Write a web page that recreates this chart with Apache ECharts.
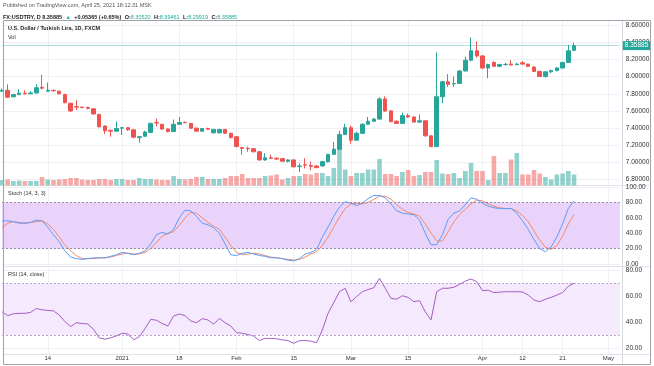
<!DOCTYPE html>
<html><head><meta charset="utf-8">
<script src="https://cdn.jsdelivr.net/npm/echarts@6/dist/echarts.min.js"></script>
<style>html,body{margin:0;padding:0;background:#fff}#c{width:654px;height:366px}</style>
</head><body><div id="c"></div><script>
const dates = [
"2020-12-02","2020-12-03","2020-12-04","2020-12-07","2020-12-08","2020-12-09","2020-12-10","2020-12-11","2020-12-14","2020-12-15","2020-12-16","2020-12-17","2020-12-18","2020-12-21","2020-12-22","2020-12-23","2020-12-24","2020-12-28","2020-12-29","2020-12-30","2020-12-31",
"2021-01-04","2021-01-05","2021-01-06","2021-01-07","2021-01-08","2021-01-11","2021-01-12","2021-01-13","2021-01-14","2021-01-15","2021-01-18","2021-01-19","2021-01-20","2021-01-21","2021-01-22","2021-01-25","2021-01-26","2021-01-27","2021-01-28","2021-01-29",
"2021-02-01","2021-02-02","2021-02-03","2021-02-04","2021-02-05","2021-02-08","2021-02-09","2021-02-10","2021-02-11","2021-02-12","2021-02-15","2021-02-16","2021-02-17","2021-02-18","2021-02-19","2021-02-22","2021-02-23","2021-02-24","2021-02-25","2021-02-26",
"2021-03-01","2021-03-02","2021-03-03","2021-03-04","2021-03-05","2021-03-08","2021-03-09","2021-03-10","2021-03-11","2021-03-12","2021-03-15","2021-03-16","2021-03-17","2021-03-18","2021-03-19","2021-03-22","2021-03-23","2021-03-24","2021-03-25","2021-03-26","2021-03-29","2021-03-30","2021-03-31",
"2021-04-01","2021-04-02","2021-04-05","2021-04-06","2021-04-07","2021-04-08","2021-04-09","2021-04-12","2021-04-13","2021-04-14","2021-04-15","2021-04-16","2021-04-19","2021-04-20","2021-04-21","2021-04-22","2021-04-23","2021-04-26","2021-04-27","2021-04-28","2021-04-29","2021-04-30",
"2021-05-03","2021-05-04","2021-05-05"];

const dateLabels = {"2020-12-14":"14","2021-01-04":"2021","2021-01-18":"18","2021-02-01":"Feb","2021-02-15":"15","2021-03-01":"Mar","2021-03-15":"15","2021-04-01":"Apr","2021-04-12":"12","2021-04-21":"21","2021-05-03":"May"};

const opens = [7.83,7.84,7.765,7.79,7.805,7.80,7.81,7.875,7.83,7.84,7.83,7.79,7.69,7.65,7.645,7.64,7.625,7.56,7.425,7.375,7.365,
7.40,7.405,7.38,7.29,7.305,7.35,7.465,7.445,7.39,7.36,7.445,7.468,7.455,7.40,7.365,7.395,7.345,7.345,7.385,7.34,
7.30,7.175,7.165,7.16,7.125,7.03,7.055,7.05,7.045,7.015,7.03,6.955,6.975,6.965,6.96,6.96,7.01,7.095,7.155,7.325,
7.405,7.26,7.34,7.445,7.48,7.505,7.74,7.60,7.48,7.455,7.545,7.53,7.47,7.485,7.31,7.185,7.765,7.94,7.915,7.92,8.065,8.19,8.30,
8.24,8.10,8.165,8.12,8.14,8.145,8.14,8.16,8.145,8.11,8.06,8.00,8.055,8.07,8.10,8.165,8.30520];
const closes = [7.84,7.76,7.79,7.805,7.80,7.81,7.87,7.865,7.84,7.835,7.80,7.695,7.60,7.645,7.64,7.63,7.565,7.415,7.37,7.365,7.395,
7.405,7.38,7.295,7.30,7.355,7.455,7.46,7.39,7.36,7.445,7.465,7.464,7.40,7.365,7.395,7.388,7.385,7.385,7.34,7.29,
7.185,7.165,7.16,7.125,7.03,7.055,7.05,7.04,7.015,7.03,6.95,6.96,6.97,6.955,6.94,7.01,7.095,7.155,7.325,7.405,
7.26,7.34,7.445,7.48,7.505,7.74,7.60,7.475,7.455,7.545,7.53,7.47,7.485,7.31,7.185,7.765,7.94,7.91,7.92,8.065,8.19,8.30,8.24,
8.10,8.14,8.12,8.14,8.142,8.135,8.145,8.145,8.12,8.06,8.00,8.055,8.07,8.10,8.165,8.30,8.35885];
const lows = [7.82,7.75,7.76,7.785,7.79,7.795,7.80,7.85,7.82,7.825,7.79,7.69,7.59,7.61,7.63,7.62,7.56,7.41,7.33,7.30,7.36,
7.32,7.37,7.28,7.23,7.30,7.345,7.42,7.38,7.35,7.355,7.44,7.455,7.39,7.36,7.36,7.38,7.34,7.34,7.335,7.28,
7.18,7.09,7.125,7.12,7.02,7.02,7.04,7.03,7.01,7.00,6.945,6.89,6.93,6.91,6.935,6.955,7.00,7.09,7.15,7.32,
7.22,7.25,7.33,7.44,7.475,7.50,7.59,7.47,7.45,7.45,7.52,7.465,7.46,7.30,7.18,7.18,7.69,7.88,7.88,7.915,8.06,8.18,8.22,
8.09,7.98,8.11,8.11,8.125,8.13,8.13,8.14,8.11,8.05,7.995,7.99,8.04,8.06,8.095,8.16,8.29919];
const highs = [7.86,7.91,7.80,7.855,7.84,7.83,7.91,8.02,7.93,7.85,7.835,7.80,7.695,7.725,7.65,7.65,7.63,7.565,7.43,7.38,7.48,
7.415,7.41,7.385,7.31,7.37,7.465,7.51,7.45,7.395,7.50,7.53,7.475,7.46,7.405,7.40,7.405,7.39,7.39,7.39,7.345,
7.305,7.18,7.185,7.165,7.13,7.11,7.09,7.06,7.05,7.04,7.035,6.99,7.05,7.01,6.965,7.02,7.10,7.24,7.37,7.45,
7.43,7.36,7.455,7.53,7.52,7.76,7.77,7.61,7.49,7.58,7.57,7.535,7.56,7.49,7.315,8.28,7.95,8.03,8.00,8.075,8.23,8.455,8.41,
8.25,8.15,8.18,8.15,8.16,8.19,8.16,8.18,8.15,8.12,8.065,8.06,8.08,8.11,8.17,8.37,8.39461];
const volumes = [11,12,9,10,9,9,9,17,12,11,12,13,15,15,12,11,11,13,13,11,13,
13,11,11,15,13,13,12,11,11,19,13,12,13,17,17,13,13,13,15,19,
19,23,15,15,15,19,20,22,12,15,19,19,23,22,25,25,19,35,86,32,
19,25,25,32,32,53,23,23,19,27,31,19,21,27,27,51,24,23,25,15,29,45,29,
29,11,59,25,25,52,65,22,22,31,24,17,12,22,24,29,22];
const stochK = [56,56,55,53,53,54,57,56,48,38,29,17,9,7,6,7,8,8,8,10,12,
15,14,12,14,17,26,38,41,39,45,60,70,69,62,53,51,47,40,26,12,
11,14,15,13,11,10,8,8,7,5,4,7,13,15,19,35,48,62,74,81,
79,76,79,85,89,89,86,78,69,66,65,64,57,40,25,25,38,58,66,69,77,86,84,
79,75,73,72,72,72,66,56,45,32,20,16,22,35,52,72,82];
const stochD = [47,53,55,54,53,54,55,56,52,45,35,25,17,11,7,7,7,8,8,9,11,
13,14,13,13,15,20,28,36,40,42,50,60,67,66,60,54,49,45,35,24,
15,12,13,14,13,11,9,8,7,6,5,6,9,13,16,24,35,48,61,72,
78,79,78,80,84,88,88,84,77,71,67,65,62,52,40,30,30,42,55,64,71,78,83,
82,78,75,73,72,72,69,63,55,43,31,22,19,24,36,52,64];
const rsi = [48,45,46.5,46.8,46.8,47.5,50.5,49.5,49,48.7,45.5,40.5,36.6,39.6,39,38.6,34.5,28,27,28,29.5,
31.5,31,26.5,28.9,35,42.2,41.5,39,37.1,44.7,46.3,45,41,39.6,42.7,41.7,38.5,43,39.6,37.1,
32,31.5,30.5,29.4,26,27.6,27.6,27.3,26.5,25.9,23.8,25.9,25.9,25.5,24.3,34,46.8,55,63.4,66,
55.7,59.6,63.4,65,66.4,73.6,66,58.3,57.6,60.3,59,55.7,56.5,48,41.7,63.4,66,66,66.8,69,71.5,73.1,71,
64.2,64.5,62.7,63,63.4,63.3,63.4,63.2,60.8,57,55.7,57.6,59,60.8,62.7,67.5,69.9];

const UP = '#26a69a', DN = '#ef5350';
const FONT = '"Liberation Sans", Arial, sans-serif';
const L = 2, W = 617.76;
const candleData = opens.map((o, i) => [o, closes[i], lows[i], highs[i]]);
const volData = volumes.map((v, i) => ({value: v, itemStyle: {color: closes[i] >= opens[i] ? 'rgba(38,166,154,0.5)' : 'rgba(239,83,80,0.5)'}}));
const labInterval = (idx, val) => dateLabels[val] !== undefined;
const gridLineColor = '#eef0f5';

function xAx(gi, opts) {
  return Object.assign({
    type: 'category', gridIndex: gi, data: dates, boundaryGap: false,
    axisLine: {show: false}, axisTick: {show: false},
    axisLabel: {show: false, interval: labInterval},
    splitLine: {show: false, interval: labInterval, lineStyle: {color: gridLineColor, width: 1}}
  }, opts || {});
}
const yLab = (dec) => ({show: true, fontSize: 6.5, color: '#333', fontFamily: FONT, margin: 6, formatter: v => v.toFixed(dec)});

const chart = echarts.init(document.getElementById('c'), null, {renderer: 'canvas'});
chart.setOption({
  animation: false,
  backgroundColor: '#fff',
  grid: [
    {left: L, width: W, top: 25, height: 154.7},
    {left: L, width: W, top: 20, height: 165.5},
    {left: L, width: W, top: 185.5, height: 80.5},
    {left: L, width: W, top: 187, height: 77},
    {left: L, width: W, top: 266, height: 88},
    {left: L, width: W, top: 270, height: 78.3}
  ],
  xAxis: [
    xAx(0),
    xAx(1, {splitLine: {show: true, interval: labInterval, lineStyle: {color: gridLineColor}}}),
    xAx(2, {splitLine: {show: true, interval: labInterval, lineStyle: {color: gridLineColor}}}),
    xAx(3),
    xAx(4, {splitLine: {show: true, interval: labInterval, lineStyle: {color: gridLineColor}},
      axisLabel: {show: true, interval: labInterval, formatter: v => dateLabels[v] || '', fontSize: 6, color: '#333', fontFamily: FONT, margin: 1}}),
    xAx(5)
  ],
  yAxis: [
    {type: 'value', gridIndex: 0, position: 'right', min: 6.8, max: 8.6, interval: 0.2,
      axisLine: {show: false}, axisTick: {show: false}, axisLabel: yLab(5),
      splitLine: {show: true, lineStyle: {color: gridLineColor}}},
    {type: 'value', gridIndex: 1, min: 0, max: 331, show: false},
    {type: 'value', gridIndex: 2, min: 0, max: 1, show: false},
    {type: 'value', gridIndex: 3, position: 'right', min: 0, max: 100, interval: 20,
      axisLine: {show: false}, axisTick: {show: false}, axisLabel: yLab(2),
      splitLine: {show: true, lineStyle: {color: gridLineColor}}},
    {type: 'value', gridIndex: 4, min: 0, max: 1, show: false},
    {type: 'value', gridIndex: 5, position: 'right', min: 20, max: 80, interval: 20,
      axisLine: {show: false}, axisTick: {show: false}, axisLabel: yLab(2),
      splitLine: {show: true, lineStyle: {color: gridLineColor}}}
  ],
  series: [
    {type: 'bar', xAxisIndex: 1, yAxisIndex: 1, data: volData, barWidth: 4.6, z: 1},
    {type: 'candlestick', xAxisIndex: 0, yAxisIndex: 0, data: candleData, barWidth: 4, z: 3,
      itemStyle: {color: UP, color0: DN, borderColor: UP, borderColor0: DN, borderWidth: 1},
      markLine: {symbol: 'none', silent: true, animation: false,
        lineStyle: {color: 'rgba(38,166,154,0.35)', type: 'solid', width: 1},
        label: {show: true, position: 'end', formatter: '8.35885', color: '#fff', backgroundColor: UP,
          padding: [1, 2, 1, 2], fontSize: 6.5, fontFamily: FONT, distance: 3},
        data: [{yAxis: 8.35885}]}},
    {type: 'line', xAxisIndex: 3, yAxisIndex: 3, data: stochK, symbol: 'none', z: 4,
      lineStyle: {color: '#5b9cf6', width: 1},
      markArea: {silent: true, itemStyle: {color: '#e9d3fb'}, data: [[{yAxis: 20}, {yAxis: 80}]]},
      markLine: {symbol: 'none', silent: true, label: {show: false},
        lineStyle: {color: '#9a8aa6', type: [2, 2], width: 1}, data: [{yAxis: 20}, {yAxis: 80}]}},
    {type: 'line', xAxisIndex: 3, yAxisIndex: 3, data: stochD, symbol: 'none', z: 3,
      lineStyle: {color: '#f08a6c', width: 1}},
    {type: 'line', xAxisIndex: 5, yAxisIndex: 5, data: rsi, symbol: 'none', z: 4,
      lineStyle: {color: '#a55dc4', width: 1},
      markArea: {silent: true, itemStyle: {color: '#f4e9fd'}, data: [[{yAxis: 30}, {yAxis: 70}]]},
      markLine: {symbol: 'none', silent: true, label: {show: false},
        lineStyle: {color: '#b9a6c6', type: [2, 2], width: 1}, data: [{yAxis: 30}, {yAxis: 70}]}}
  ],
  graphic: [
    {type: 'line', shape: {x1: 622.5, y1: 20, x2: 622.5, y2: 365}, style: {stroke: '#d6d9e0', lineWidth: 1}, silent: true},
    {type: 'line', shape: {x1: 3, y1: 185.5, x2: 651, y2: 185.5}, style: {stroke: '#e0e3eb', lineWidth: 1}, silent: true},
    {type: 'line', shape: {x1: 3, y1: 266.5, x2: 651, y2: 266.5}, style: {stroke: '#e0e3eb', lineWidth: 1}, silent: true},
    {type: 'line', shape: {x1: 3, y1: 354.5, x2: 651, y2: 354.5}, style: {stroke: '#e0e3eb', lineWidth: 1}, silent: true},
    {type: 'rect', shape: {x: 3.5, y: 20.5, width: 647, height: 344}, style: {fill: null, stroke: '#9ea2aa', lineWidth: 1}, silent: true, z: 100},
    {type: 'text', left: 3, top: 2, silent: true, style: {text: 'Published on TradingView.com, April 25, 2021 18:12:31 MSK', fill: '#555', font: '5.5px ' + FONT}},
    {type: 'text', left: 3, top: 11.5, silent: true, style: {
      text: '{b|FX:USDTRY, D 8.35885} {g|▲} {b|+0.05365 (+0.65%)} {b|O:}{g|8.30520} {b|H:}{g|8.39461} {b|L:}{g|8.29919} {b|C:}{g|8.35885}',
      rich: {b: {fill: '#222', font: 'bold 5.5px ' + FONT}, g: {fill: UP, font: '5.5px ' + FONT}}}},
    {type: 'text', left: 8, top: 25.5, silent: true, style: {text: 'U.S. Dollar / Turkish Lira, 1D, FXCM', fill: '#222', font: 'bold 5.5px ' + FONT}},
    {type: 'text', left: 8, top: 34, silent: true, style: {text: 'Vol', fill: '#333', font: '5.5px ' + FONT}},
    {type: 'text', left: 8, top: 190, silent: true, style: {text: 'Stoch (14, 3, 3)', fill: '#333', font: '5.5px ' + FONT}},
    {type: 'text', left: 8, top: 271, silent: true, style: {text: 'RSI (14, close)', fill: '#333', font: '5.5px ' + FONT}}
  ]
});
</script></body></html>
